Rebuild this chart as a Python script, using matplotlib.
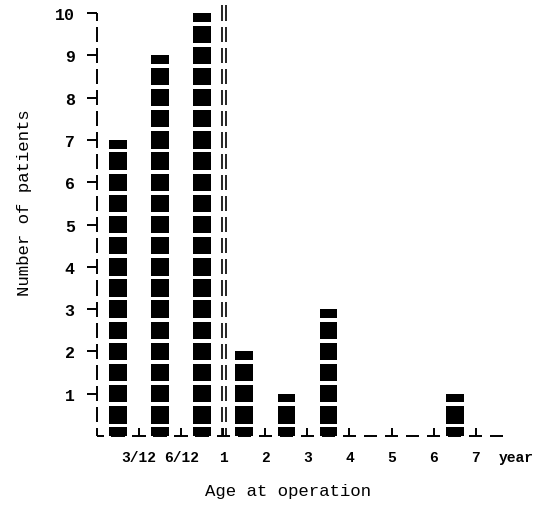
import numpy as np
import matplotlib.pyplot as plt

# age-at-operation classes and number of patients in each
age_bins = ['0-3/12', '3/12-6/12', '6/12-1', '1-2', '2-3', '3-4', '4-5', '5-6', '6-7']
patients = [7, 9, 10, 2, 1, 3, 0, 0, 1]
boundary_labels = ['3/12', '6/12', '1', '2', '3', '4', '5', '6', '7']

FONT = 'Liberation Mono'
plt.rcParams['font.family'] = [FONT, 'DejaVu Sans Mono']
plt.rcParams['font.weight'] = 'bold'

fig = plt.figure(figsize=(5.44, 5.10), dpi=100)
ax = fig.add_axes([0.1783, 0.1431, 0.789, 0.850])
ax.set_xlim(0, 10.2)
ax.set_ylim(0, 10.25)

# bars built from stacked blocks, one block per half patient
half = 0.205
for i, n in enumerate(patients):
    for c in np.arange(0, n + 0.01, 0.5):
        lo = max(0, c - half)
        hi = min(n, c + half)
        if hi > lo:
            ax.bar(i + 0.5, hi - lo, bottom=lo, width=0.42, color='black',
                   linewidth=0)

# dashed axes
lw = 1.4
for v in np.arange(0, 10.01, 0.5):
    ax.plot([0, 0], [max(0, v - 0.18), min(10, v + 0.18)], color='black',
            lw=lw, clip_on=False, solid_capstyle='butt')
for v in np.arange(0, 9.51, 0.5):
    ax.plot([max(0, v - 0.16), v + 0.16], [0, 0], color='black',
            lw=lw, clip_on=False, solid_capstyle='butt')

# scale break between months and years
for bx in (2.96, 3.07):
    for v in np.arange(0, 10.21, 0.5):
        ax.plot([bx, bx], [max(0, v - 0.18), min(10.2, v + 0.18)], color='black',
                lw=1.2, clip_on=False, solid_capstyle='butt')

for s in ax.spines.values():
    s.set_visible(False)

ax.set_yticks(range(1, 11))
ax.set_yticklabels([str(k) for k in range(1, 11)])
ax.set_xticks(range(1, len(boundary_labels) + 1))
ax.set_xticklabels(boundary_labels)
ax.tick_params(axis='y', direction='out', length=7, width=lw, pad=9, labelsize=12)
ax.tick_params(axis='x', direction='in', length=6, width=lw, pad=10, labelsize=10.5)
for lab in ax.get_xticklabels():
    lab.set_x(lab.get_position()[0])

ax.annotate('year', xy=(9.97, 0), xycoords=('data', 'axes fraction'),
            xytext=(0, -10), textcoords='offset points', ha='center', va='top',
            fontsize=10.5)

ax.set_xlabel('Age at operation', fontsize=12.5)
ax.set_ylabel('Number of patients', fontsize=12.5)
ax.xaxis.set_label_coords(0.445, -0.108)
ax.yaxis.set_label_coords(-0.152, 0.54)

fig.savefig('out.png', dpi=100)
